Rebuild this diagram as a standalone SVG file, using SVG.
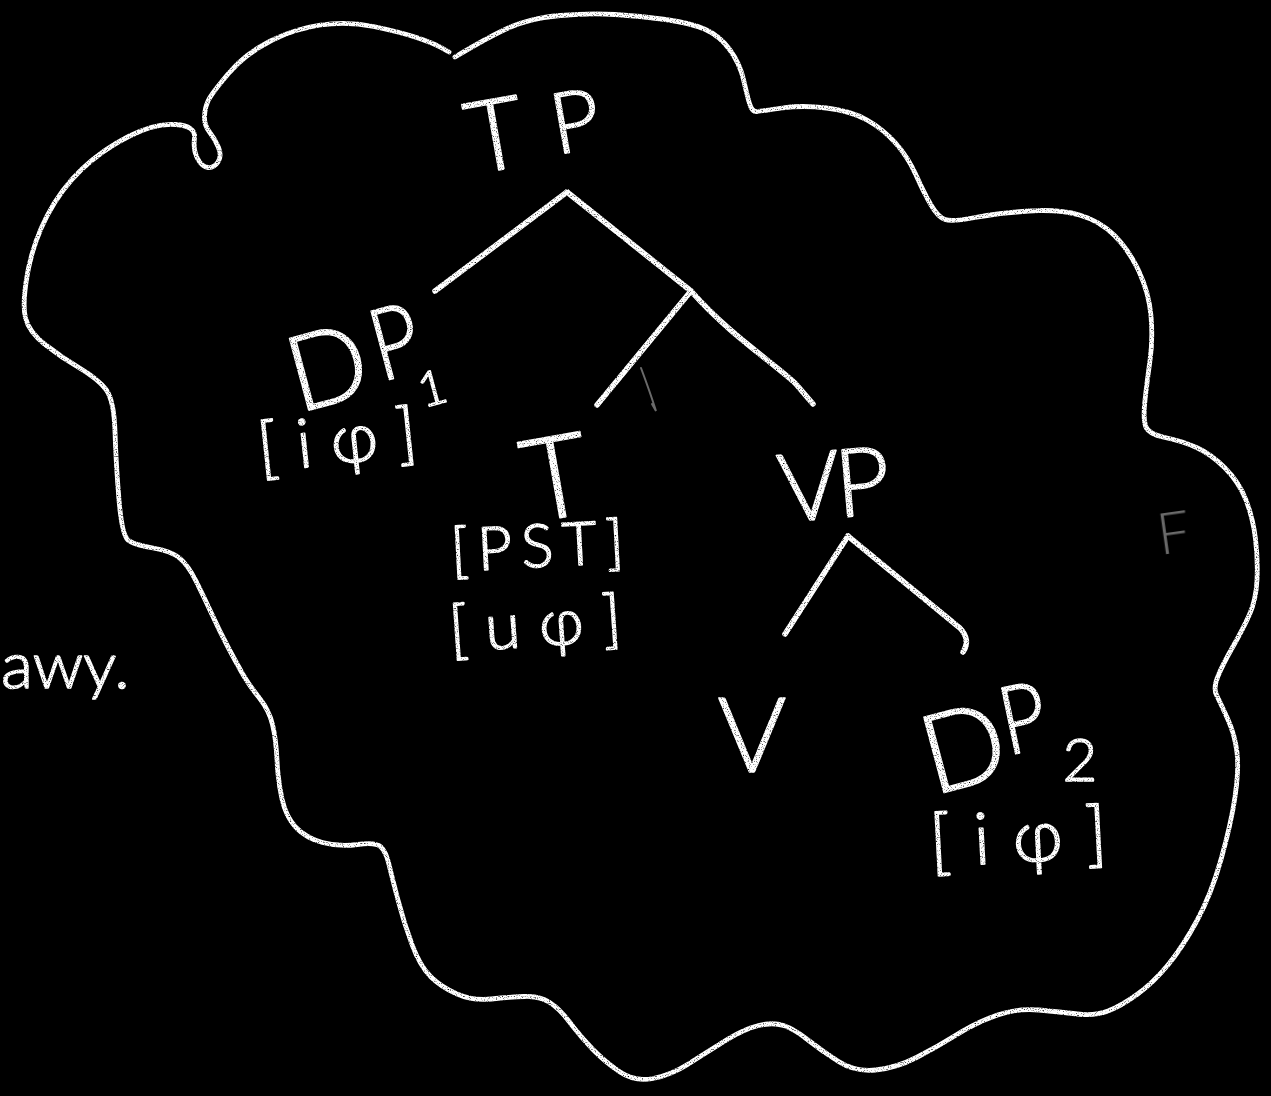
<svg xmlns="http://www.w3.org/2000/svg" width="1271" height="1096" viewBox="0 0 1271 1096">
<defs>
<style>
.ln{fill:none;stroke:#fff;stroke-width:5.5;stroke-linecap:round;stroke-linejoin:round}
.cl{fill:none;stroke:#fff;stroke-width:4.8;stroke-linecap:round;stroke-linejoin:round}
.lb{fill:#fff;stroke:#fff;stroke-width:1.6;stroke-linejoin:round;font-family:Lato,"Open Sans","Liberation Sans",sans-serif;font-weight:300}
.gr{fill:#6a6a6a;font-family:Lato,"Open Sans","Liberation Sans",sans-serif;font-weight:300}
</style>
<filter id="chalk" filterUnits="userSpaceOnUse" x="0" y="0" width="1271" height="1096">
<feTurbulence type="fractalNoise" baseFrequency="0.85" numOctaves="1" seed="7" result="n"/>
<feColorMatrix in="n" type="matrix" values="0 0 0 0 1  0 0 0 0 1  0 0 0 0 1  3.4 0 0 0 -0.55" result="m"/>
<feComposite in="SourceGraphic" in2="m" operator="in"/>
</filter>
</defs>
<rect width="1271" height="1096" fill="#000"/>
<g filter="url(#chalk)">
<g id="cloud">
<path class="cl" d="M455,57 Q490,36 510.5,27 Q531,18 560.5,15.5 Q590,13 615,14.5 Q640,16 665.5,19.5 Q691,23 705.5,29.5 Q720,36 730,50 Q740,64 743.5,79.5 Q747,95 749.5,103.5 Q752,112 757,111.5 Q762,111 782,108 Q802,105 826.5,108 Q851,111 867,120 Q883,129 895.5,143 Q908,157 916,175 Q924,193 931,205 Q938,217 945,219.5 Q952,222 975,217.5 Q998,213 1028.5,211 Q1059,209 1079.5,215 Q1100,221 1114.5,235.5 Q1129,250 1139,271.5 Q1149,293 1151,316 Q1153,339 1150,360.5 Q1147,382 1145,400 Q1143,418 1145.5,426 Q1148,434 1165,437.5 Q1182,441 1196.5,447.5 Q1211,454 1225,468 Q1239,482 1246,500 Q1253,518 1255.5,539 Q1258,560 1257,580 Q1256,600 1249.5,614.5 Q1243,629 1233,646.5 Q1223,664 1218,676 Q1213,688 1216.5,695 Q1220,702 1227.5,718.5 Q1235,735 1237,752.5 Q1239,770 1235,797 Q1231,824 1221,859.5 Q1211,895 1196.5,921.5 Q1182,948 1167.5,965.5 Q1153,983 1137,994.5 Q1121,1006 1108,1011 Q1095,1016 1077.5,1014 Q1060,1012 1039,1010 Q1018,1008 997.5,1015 Q977,1022 957,1034.5 Q937,1047 916.5,1057.5 Q896,1068 875.5,1070 Q855,1072 838.5,1061.5 Q822,1051 808,1040 Q794,1029 783.5,1025.5 Q773,1022 758.5,1025.5 Q744,1029 724,1041.5 Q704,1054 687.5,1064.5 Q671,1075 653,1078.5 Q635,1082 620,1072 Q605,1062 592.5,1049 Q580,1036 569.5,1022 Q559,1008 549,1002 Q539,996 524.5,996.5 Q510,997 491.5,999 Q473,1001 457,994 Q441,987 430.5,976.5 Q420,966 412,944.5 Q404,923 398,900 Q392,877 389,864.5 Q386,852 381,847 Q376,842 357.5,844.5 Q339,847 322.5,842.5 Q306,838 296,827.5 Q286,817 282,799 Q278,781 277,760 Q276,739 272.5,724.5 Q269,710 259,697.5 Q249,685 243,674.5 Q237,664 228.5,648 Q220,632 212,614.5 Q204,597 196,581 Q188,565 179.5,558 Q171,551 153,548 Q135,545 128.5,540.5 Q122,536 119,500 Q116,464 115,432 Q114,400 106,389.5 Q98,379 79.5,368 Q61,357 45,344.5 Q29,332 25.5,318 Q22,304 27.5,273.5 Q33,243 47,216 Q61,189 81.5,169.5 Q102,150 128.5,136.5 Q155,123 175.5,124.5 Q196,126 194.5,138 Q193,150 197.5,158.5 Q202,167 208,167.5 Q214,168 218,162 Q222,156 218.5,147.5 Q215,139 209.5,132 Q204,125 204.5,116 Q205,107 208.5,100 Q212,93 228.5,73.5 Q245,54 269.5,41.5 Q294,29 320.5,25 Q347,21 373.5,26.5 Q400,32 416.5,37.5 Q433,43 441,47.5 L449,52"/>
</g>
<g id="connectors">
<path class="ln" d="M567,192 L435,291"/>
<path class="ln" d="M567,192 L691,291 C730,335 770,360 795,383 L813,404"/>
<path class="ln" d="M691,291 L597,405"/>
<path class="ln" d="M848,536 L785,634"/>
<path class="ln" d="M848,536 L960,628 Q971,640 963,652"/>
</g>
<g id="node-TP">
<text class="lb" font-size="100" x="495" y="170" text-anchor="middle" transform="rotate(-10 495 134)">T</text>
<text class="lb" font-size="85" x="575" y="151" text-anchor="middle" transform="rotate(-10 575 120)">P</text>
</g>
<g id="node-DP1">
<text class="lb" font-size="105" x="327" y="404" text-anchor="middle" transform="rotate(-15 327 366)">D</text>
<text class="lb" font-size="100" x="371" y="377" textLength="48" lengthAdjust="spacingAndGlyphs" transform="rotate(-15 394 341)">P</text>
<text class="lb" font-size="48" x="432" y="405" text-anchor="middle" transform="rotate(-15 432 388)">1</text>
<text class="lb" font-size="68" x="347" y="463" text-anchor="middle" letter-spacing="19" transform="rotate(-6 345 445)">[iφ]</text>
</g>
<g id="node-T">
<text class="lb" font-size="115" x="555" y="518" text-anchor="middle" transform="rotate(-10 555 473)">T</text>
<text class="lb" font-size="60" x="542" y="567" text-anchor="middle" letter-spacing="9" transform="rotate(-3 538 552)">[PST]</text>
<text class="lb" font-size="64" x="545" y="646" text-anchor="middle" letter-spacing="19" transform="rotate(-4 540 630)">[uφ]</text>
</g>
<g id="node-VP">
<text class="lb" font-size="95" x="831" y="518" text-anchor="middle" letter-spacing="-5" transform="rotate(-5 831 480)">VP</text>
</g>
<g id="node-V">
<text class="lb" font-size="105" x="752" y="772" text-anchor="middle">V</text>
</g>
<g id="node-DP2">
<text class="lb" font-size="110" x="963" y="786" text-anchor="middle" transform="rotate(-15 963 746)">D</text>
<text class="lb" font-size="95" x="1000" y="752" textLength="46" lengthAdjust="spacingAndGlyphs" transform="rotate(-12 1021 718)">P</text>
<text class="lb" font-size="60" x="1080" y="781" text-anchor="middle">2</text>
<text class="lb" font-size="72" x="1030" y="862" text-anchor="middle" letter-spacing="23" transform="rotate(-3 1022 843)">[iφ]</text>
</g>
<g id="margin-text">
<text class="lb" font-size="66" x="1" y="688">awy.</text>
</g>
</g>
<g id="faint-marks">
<path d="M641,368 Q650,392 656,411 L652,404" fill="none" stroke="#6a6a6a" stroke-width="2" stroke-linecap="round"/>
<text class="gr" font-size="58" x="1173" y="553" text-anchor="middle" transform="rotate(-8 1173 530)">F</text>
</g>
</svg>
